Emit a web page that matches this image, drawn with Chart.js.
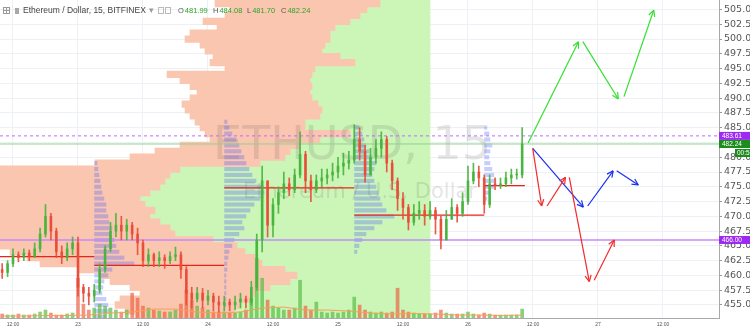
<!DOCTYPE html>
<html lang="en">
<head>
  <meta charset="UTF-8">
  <title>ETHUSD, 15</title>
  <style>
    html, body { margin: 0; padding: 0; background: #fff; }
    canvas { display: block; }
  </style>
  <script src="https://cdn.jsdelivr.net/npm/chart.js"></script>
</head>
<body>
  <canvas id="chart" width="750" height="334"></canvas>

  <script>
    // time axis is in hours counted from 22 00:00
    const xTickHours  = [12, 24, 36, 48, 60, 72, 84, 96, 108, 120, 132];
    const xTickLabels = ['12:00', '23', '12:00', '24', '12:00', '25', '12:00', '26', '12:00', '27', '12:00'];
    const priceTicks = [455, 457.5, 460, 462.5, 465, 467.5, 470, 472.5, 475, 477.5, 480, 482.5,
                        485, 487.5, 490, 492.5, 495, 497.5, 500, 502.5, 505];

    // hourly candles
    const hours = [10, 11, 12, 13, 14, 15, 16, 17, 18, 19, 20, 21, 22, 23,
                   24, 25, 26, 27, 28, 29, 30, 31, 32, 33, 34, 35, 36, 37, 38, 39, 40, 41, 42, 43, 44, 45, 46, 47,
                   48, 49, 50, 51, 52, 53, 54, 55, 56, 57, 58, 59, 60, 61, 62, 63, 64, 65, 66, 67, 68, 69, 70, 71,
                   72, 73, 74, 75, 76, 77, 78, 79, 80, 81, 82, 83, 84, 85, 86, 87, 88, 89, 90, 91, 92, 93, 94, 95,
                   96, 97, 98, 99, 100, 101, 102, 103, 104, 105, 106];
    const firstOpen = 461;
    const closes = [460.5, 462, 463.5, 463, 463.8, 463.2, 464.5, 467, 470, 467.5, 464, 463, 464.5, 465.5,
                    458, 457, 456.5, 457.5, 461, 464.5, 467.5, 468.5, 467.5, 468.5, 467, 465.5, 462.5, 463.5, 462.5, 463, 462.5, 463.2, 463.5, 461, 457, 456, 457, 455.8,
                    456.5, 455.5, 455, 455.5, 455, 455.5, 456, 455.5, 458, 466, 476, 468.5, 472, 474, 475.5, 474.5, 477, 480.5, 476, 474.5, 476, 476.5, 477, 477.5,
                    478.5, 479, 479.5, 483, 481, 477, 480, 481.5, 483, 479, 476, 473, 471.5, 469, 470.5, 471, 470, 471, 469.5, 466, 469.5, 471.5, 470.5, 472.5,
                    476, 477.5, 476.5, 472, 475.5, 475.2, 475.5, 476.5, 477, 477, 482.24];
    const highs = [462, 462.5, 464.5, 464, 464.5, 464.3, 465.5, 468, 472, 470.5, 468, 465, 465.5, 466.5,
                   466.5, 458.5, 458, 458.5, 462, 465, 469, 470.5, 470, 469.5, 469, 468, 466, 464.5, 463.8, 464, 463.5, 464, 464.8, 464, 461.5, 458, 458, 457.8,
                   457.5, 457, 456.5, 456.5, 456, 456.5, 457, 456.5, 459, 467, 478.5, 476, 473, 475, 477.5, 476.5, 478, 484.3, 481, 477, 477, 478, 478, 479,
                   480, 480.7, 481, 485.5, 485, 482, 481.5, 483, 484.3, 483.5, 479.5, 476.5, 474, 472, 472, 472.5, 472, 472.5, 471.5, 470, 471, 473, 472, 474,
                   478.5, 479, 478.5, 477, 477, 476.5, 476.5, 477.5, 478, 478, 485];
    const lows = [459.5, 459.8, 461.5, 462.3, 462.5, 462.5, 463, 464, 466.5, 466, 463, 462, 462.5, 463.5,
                  456.5, 455.5, 455, 455.5, 457, 460.5, 464, 466.5, 466, 466, 466, 463.5, 461.5, 461.5, 461.5, 461.5, 461.2, 462, 462.5, 459.5, 455, 454.5, 455.5, 454.5,
                  455, 454, 453.8, 454, 454, 454.2, 454.5, 454.5, 455, 457.5, 464, 466.5, 466.5, 470.5, 473, 473.5, 474, 476.5, 474, 472.5, 474, 475, 475.5, 476,
                  476.5, 477, 478, 479, 479.5, 475.8, 477, 479, 480, 477.5, 474.5, 471, 469.5, 467.7, 468.5, 469.5, 468.5, 469.5, 467, 464.5, 466, 469.5, 469, 470,
                  472, 475.5, 475, 470.5, 471.5, 474.5, 474.7, 475, 475.5, 476.3, 476.5];
    const volumes = [4, 3, 3, 4, 3, 3, 4, 6, 8, 5, 3, 3, 4, 5,
                     40, 14, 8, 10, 14, 12, 10, 8, 6, 8, 25, 20, 12, 10, 8, 7, 6, 6, 8, 14, 28, 18, 12, 10,
                     8, 6, 6, 6, 5, 5, 6, 8, 20, 60, 40, 18, 12, 10, 8, 8, 10, 38, 12, 8, 16, 6, 5, 6,
                     5, 6, 8, 21, 13, 8, 6, 5, 6, 5, 6, 30, 8, 6, 5, 4, 4, 4, 5, 8, 5, 4, 4, 4,
                     6, 4, 3, 5, 4, 3, 3, 3, 3, 3, 9];
    const volMaHours = [10, 14, 18, 22, 26, 30, 34, 38, 42, 46, 50, 54, 58, 62, 66, 70, 74, 78, 82, 86, 90, 94, 98, 102, 106];
    const volMa      = [2, 2, 2.5, 2.5, 3, 5, 6, 9, 9, 6, 5, 6, 10, 11, 8, 8, 7, 5, 4, 4.5, 4, 3, 3, 2.5, 3];

    // visible range volume profile (anchored at hour 89, growing to the left)
    const vpPrices = [506, 505, 504, 503, 502, 501, 500, 499, 498, 497, 496, 495, 494, 493, 492, 491, 490, 489,
                      488, 487, 486, 485, 484, 483, 482, 481, 480, 479, 478, 477, 476, 475, 474, 473, 472, 471,
                      470, 469, 468, 467, 466, 465, 464, 463, 462, 461, 460, 459, 458, 457, 456, 455, 454, 453];
    const vpUp = [50, 63, 70, 80, 95, 100, 100, 105, 108, 90, 75, 115, 118, 120, 118, 120, 118, 112,
                  108, 110, 125, 125, 80, 110, 130, 140, 145, 170, 250, 260, 265, 270, 280, 290, 285, 275,
                  280, 270, 260, 255, 217, 193, 185, 175, 168, 145, 133, 140, 160, 175, 180, 190, 195, 195];
    const vpTotal = [215, 200, 205, 227, 213, 240, 245, 230, 225, 217, 220, 205, 263, 250, 240, 233, 240, 248,
                     245, 240, 235, 230, 225, 220, 250, 275, 300, 335, 440, 450, 450, 460, 470, 470, 470, 460,
                     460, 450, 450, 440, 435, 430, 420, 403, 390, 352, 330, 320, 300, 290, 310, 315, 305, 295];

    // session volume profiles
    const sessionStart = [27, 51, 75, 99];
    const sessionPrices = [
      [479, 478, 477, 476, 475, 474, 473, 472, 471, 470, 469, 468, 467, 466, 465, 464, 463, 462, 461, 460, 459, 458, 457, 456, 455, 454, 453],
      [486, 485, 484, 483, 482, 481, 480, 479, 478, 477, 476, 475, 474, 473, 472, 471, 470, 469, 468, 467, 466, 465, 464, 463, 462, 461, 460, 459, 458, 457, 456, 455],
      [485, 484, 483, 482, 481, 480, 479, 478, 477, 476, 475, 474, 473, 472, 471, 470, 469, 468, 467, 466, 465, 464],
      [485, 484, 483, 482, 481, 480, 479, 478, 477, 476, 475, 474, 473]
    ];
    const sessionVolumes = [
      [3, 4, 5, 6, 7, 8, 10, 12, 12, 14, 15, 18, 16, 20, 22, 25, 30, 40, 18, 14, 10, 9, 8, 12, 14, 15, 12],
      [3, 5, 8, 12, 15, 17, 20, 22, 25, 28, 32, 38, 40, 36, 30, 26, 22, 18, 20, 15, 10, 8, 5, 4, 3, 3, 2, 2, 2, 2, 2, 2],
      [5, 8, 10, 12, 15, 18, 22, 20, 18, 20, 22, 24, 26, 28, 32, 40, 28, 20, 12, 8, 5, 3],
      [3, 5, 6, 8, 6, 5, 6, 8, 10, 12, 10, 6, 3]
    ];
    const pocStart = [3, 27, 51, 75, 99];
    const pocEnd   = [27, 51, 75, 99, 106.5];
    const pocPrice = [463.2, 461.7, 474.8, 470.2, 475.2];

    // price levels
    const levelPrice = [483.61, 482.24, 466.00];
    const levelText  = ['483.61', '482.24', '466.00'];
    const countdown = '00:55';
    const lastOHLC = ['481.99', '484.08', '481.70', '482.24'];

    // drawn scenarios: [fromHour, fromPrice, toHour, toPrice]
    const greenArrows = [[107.1, 482.4, 116.4, 499.55], [117.2, 499.55, 123.75, 489.85], [124.8, 490.25, 130.3, 504.9]];
    const redArrows   = [[107.95, 481.5, 109.6, 471.75], [110.6, 471.75, 114.0, 476.6], [114.7, 476.6, 118.4, 458.95], [119.3, 459.2, 123.0, 466.0]];
    const blueArrows  = [[107.95, 481.5, 117.3, 471.55], [118.1, 471.75, 122.8, 477.7], [123.45, 477.7, 127.45, 475.3]];

    // axis ranges
    const xMin = 9.6, xMax = 142.34;
    const yMin = 452.8, yMax = 506.6;
    const sessHoursPerUnit = 0.185;

    const opens = closes.map((c, i) => i === 0 ? firstOpen : closes[i - 1]);
    const isUp = closes.map((c, i) => c >= opens[i]);

    const datasets = [];
    const barBase = { type: 'bar', grouped: false, borderWidth: 0, borderSkipped: false };

    // big profile (opaque, slightly overlapping rows so no seams)
    datasets.push({ ...barBase, indexAxis: 'y', xAxisID: 'xv', yAxisID: 'yp', order: 31,
      barThickness: 6.6, backgroundColor: '#ccf5b8',
      data: vpPrices.map((p, i) => ({ x: [0, vpUp[i]], y: p })) });
    datasets.push({ ...barBase, indexAxis: 'y', xAxisID: 'xv', yAxisID: 'yp', order: 30,
      barThickness: 6.6, backgroundColor: '#fbc6b0',
      data: vpPrices.map((p, i) => ({ x: [vpUp[i], vpTotal[i]], y: p })) });

    // session profiles
    sessionStart.forEach((s, k) => {
      datasets.push({ ...barBase, indexAxis: 'y', xAxisID: 'x', yAxisID: 'yp', order: 25,
        categoryPercentage: 1, barPercentage: 0.7, backgroundColor: 'rgba(70,90,255,0.3)',
        data: sessionPrices[k].map((p, i) => ({ x: [s, s + sessionVolumes[k][i] * sessHoursPerUnit], y: p })) });
    });

    // volume
    datasets.push({ ...barBase, yAxisID: 'yv', order: 20, barThickness: 3,
      backgroundColor: isUp.map(u => u ? 'rgba(90,190,70,0.7)' : 'rgba(235,90,60,0.65)'),
      data: hours.map((h, i) => ({ x: h, y: volumes[i] })) });
    datasets.push({ type: 'line', yAxisID: 'yv', order: 19, borderColor: '#f5a05a', borderWidth: 1,
      pointRadius: 0, fill: false, data: volMaHours.map((h, i) => ({ x: h, y: volMa[i] })) });

    // POC lines
    pocPrice.forEach((p, i) => {
      datasets.push({ type: 'line', order: 10, borderColor: '#e8231c', borderWidth: 1.3, pointRadius: 0, fill: false,
        data: [{ x: pocStart[i], y: p }, { x: pocEnd[i], y: p }] });
    });

    // levels
    const levelStyle = [
      { color: '#bb6cff', width: 1, dash: [3, 3] },
      { color: '#8fd28f', width: 1, dash: [] },
      { color: '#c58aff', width: 1.6, dash: [] }
    ];
    levelPrice.forEach((p, i) => {
      datasets.push({ type: 'line', order: 8, borderColor: levelStyle[i].color, borderWidth: levelStyle[i].width,
        borderDash: levelStyle[i].dash, pointRadius: 0, fill: false,
        data: [{ x: xMin, y: p }, { x: xMax, y: p }] });
    });

    // candles
    const candleColor = isUp.map(u => u ? 'rgba(70,180,60,0.9)' : 'rgba(232,75,55,0.9)');
    datasets.push({ ...barBase, order: 5, barThickness: 1, backgroundColor: candleColor,
      data: hours.map((h, i) => ({ x: h, y: [lows[i], highs[i]] })) });
    datasets.push({ ...barBase, order: 4, barThickness: 2, minBarLength: 1, backgroundColor: candleColor,
      data: hours.map((h, i) => ({ x: h, y: [opens[i], closes[i]] })) });

    // arrows
    [[greenArrows, '#33e02f'], [redArrows, '#f42a2a'], [blueArrows, '#1a2ff0']].forEach(([list, color]) => {
      list.forEach(a => {
        datasets.push({ type: 'line', order: 1, arrow: true, borderColor: color, borderWidth: 1.2,
          pointRadius: 0, fill: false, data: [{ x: a[0], y: a[1] }, { x: a[2], y: a[3] }] });
      });
    });

    // watermark goes right after the big profile is painted
    const watermark = {
      id: 'watermark',
      afterDatasetDraw(chart, args) {
        if (args.index !== 1) return;
        const ctx = chart.ctx;
        ctx.save();
        ctx.fillStyle = 'rgba(70,70,70,0.14)';
        ctx.textAlign = 'center';
        ctx.font = '46px "DejaVu Sans"';
        ctx.fillText('ETHUSD, 15', 352, 159);
        ctx.font = '21px "DejaVu Sans"';
        ctx.fillText('Ethereum / U.S. Dollar', 360, 198);
        ctx.restore();
      }
    };

    const arrowHeads = {
      id: 'arrowHeads',
      afterDatasetsDraw(chart) {
        const ctx = chart.ctx;
        ctx.save();
        chart.data.datasets.forEach((ds, i) => {
          if (!ds.arrow) return;
          const pts = chart.getDatasetMeta(i).data;
          const a = pts[0], b = pts[pts.length - 1];
          const ang = Math.atan2(b.y - a.y, b.x - a.x);
          ctx.strokeStyle = ds.borderColor;
          ctx.lineWidth = ds.borderWidth;
          ctx.beginPath();
          [-0.45, 0.45].forEach(d => {
            ctx.moveTo(b.x, b.y);
            ctx.lineTo(b.x - 7 * Math.cos(ang + d), b.y - 7 * Math.sin(ang + d));
          });
          ctx.stroke();
        });
        ctx.restore();
      }
    };

    const overlay = {
      id: 'overlay',
      afterDraw(chart) {
        const ctx = chart.ctx;
        const area = chart.chartArea;
        const y = chart.scales.y;
        ctx.save();

        // price boxes on the axis
        const boxColor = ['#9c2af2', '#1c8c1c', '#9c2af2'];
        ctx.font = '6.5px "Liberation Sans"';
        ctx.textBaseline = 'middle';
        levelPrice.forEach((p, i) => {
          const py = y.getPixelForValue(p);
          ctx.fillStyle = boxColor[i];
          ctx.fillRect(area.right, py - 4, chart.width - area.right, 8);
          ctx.fillStyle = '#fff';
          ctx.fillText(levelText[i], area.right + 3, py + 0.5);
        });
        const cy = y.getPixelForValue(levelPrice[1]) + 9;
        ctx.fillStyle = '#1c8c1c';
        ctx.fillRect(735, cy - 4, chart.width - 735, 8);
        ctx.fillStyle = '#fff';
        ctx.fillText(countdown, 737, cy + 0.5);

        // header
        ctx.strokeStyle = '#9a9a9a';
        ctx.lineWidth = 1;
        ctx.strokeRect(3.5, 7.5, 6, 6);
        ctx.beginPath();
        ctx.moveTo(3.5, 10.5); ctx.lineTo(9.5, 10.5);
        ctx.moveTo(6.5, 7.5); ctx.lineTo(6.5, 13.5);
        ctx.stroke();
        ctx.fillStyle = '#a8a8a8';
        ctx.fillRect(15, 8, 4, 6);
        ctx.fillStyle = '#444';
        ctx.font = '8.5px "Liberation Sans"';
        ctx.fillText('Ethereum / Dollar, 15, BITFINEX', 23, 10.5);
        ctx.fillStyle = '#999';
        ctx.fillText('\u25BE', 149, 10.5);
        ctx.strokeStyle = '#bbb';
        ctx.strokeRect(158.5, 7.5, 5, 6);
        ctx.strokeRect(165.5, 7.5, 5, 6);
        const letters = ['O', 'H', 'L', 'C'];
        const lx = [178, 213, 247, 281];
        ctx.font = '7.5px "Liberation Sans"';
        letters.forEach((l, i) => {
          ctx.fillStyle = '#555';
          ctx.fillText(l, lx[i], 10.5);
          ctx.fillStyle = '#2aa52a';
          ctx.fillText(lastOHLC[i], lx[i] + ctx.measureText(l).width + 1, 10.5);
        });
        ctx.restore();
      }
    };

    new Chart(document.getElementById('chart'), {
      type: 'bar',
      data: { datasets },
      options: {
        responsive: false,
        animation: false,
        devicePixelRatio: 1,
        events: [],
        layout: { padding: 0 },
        plugins: { legend: { display: false }, tooltip: { enabled: false } },
        scales: {
          x: {
            type: 'linear', position: 'bottom', min: xMin, max: xMax, offset: false,
            grid: { color: '#edf1f5', drawTicks: false, offset: false },
            border: { display: true, color: '#a9a9a9' },
            ticks: {
              autoSkip: false, maxRotation: 0, padding: 4, color: '#555',
              font: { size: 5, family: 'Liberation Sans' },
              callback: (v, i) => xTickLabels[i]
            },
            afterBuildTicks: s => { s.ticks = xTickHours.map(v => ({ value: v })); },
            afterFit: s => { s.height = 16; s.paddingLeft = 0; s.paddingRight = 0; }
          },
          y: {
            type: 'linear', position: 'right', min: yMin, max: yMax, offset: false,
            grid: { color: '#edf1f5', tickLength: 3, tickColor: '#999', offset: false },
            border: { display: true, color: '#a9a9a9' },
            ticks: {
              padding: 2, color: '#555',
              font: { size: 9.5, family: 'DejaVu Sans' },
              callback: v => v.toFixed(1)
            },
            afterBuildTicks: s => { s.ticks = priceTicks.map(v => ({ value: v })); },
            afterFit: s => { s.width = 31; s.paddingTop = 0; s.paddingBottom = 0; }
          },
          xv: { type: 'linear', display: false, reverse: true, min: -289, max: 430, offset: false, grid: { offset: false } },
          yp: { type: 'linear', display: false, min: yMin, max: yMax, offset: false, grid: { offset: false } },
          yv: { type: 'linear', display: false, min: 0, max: 320, offset: false, grid: { offset: false } }
        }
      },
      plugins: [watermark, arrowHeads, overlay]
    });
  </script>
</body>
</html>
